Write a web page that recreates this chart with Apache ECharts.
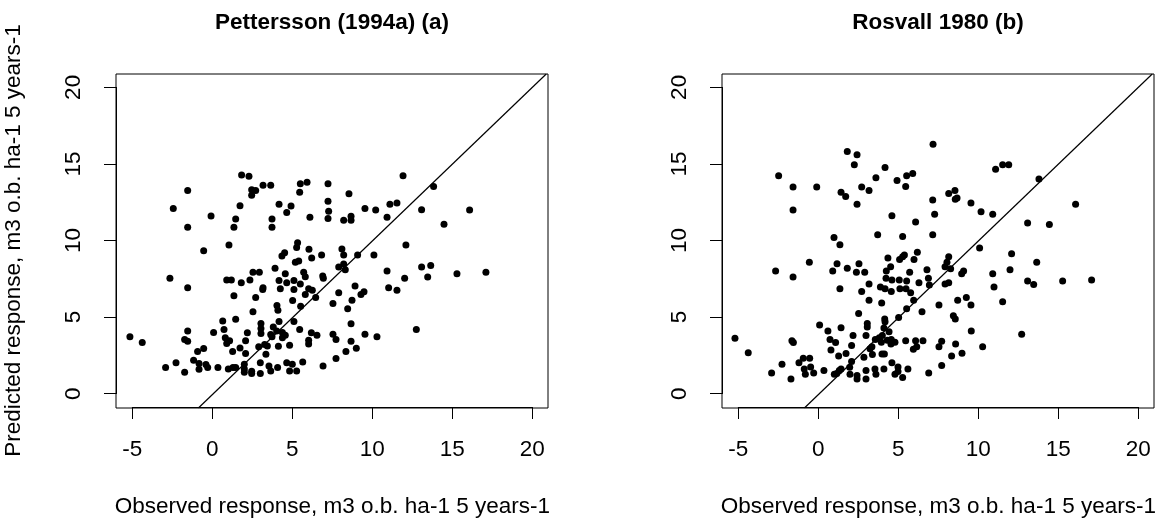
<!DOCTYPE html>
<html><head><meta charset="utf-8">
<script src="https://cdn.jsdelivr.net/npm/echarts@6/dist/echarts.min.js"></script>
<style>html,body{margin:0;padding:0;background:#fff}#c{width:1163px;height:523px}</style>
</head><body><div id="c"></div>
<script>
// ---- texts ----
const panelTitles = ['Pettersson (1994a) (a)', 'Rosvall 1980 (b)'];
const xTitle = 'Observed response, m3 o.b. ha-1 5 years-1';
const yTitle = 'Predicted response, m3 o.b. ha-1 5 years-1';

// ---- axis ranges / ticks ----
const xRange = [-6.02, 20.98];
const yRange = [-0.87, 20.87];
const xTickRange = [-5, 20];
const yTickRange = [0, 20];
const tickStep = 5;

// ---- panel (a): Pettersson (1994a) ----
const obsA = [1.83,2.29,-1.54,2.46,2.71,2.46,3.17,3.65,5.5,5.92,7.23,5.46,8.54,11.92,13.83,1.73,-2.44,-0.08,-1.54,1.46,1.35,3.73,3.73,4.17,4.65,4.92,6.10,7.23,7.27,7.23,8.21,8.67,8.67,9.54,10.21,10.92,11.10,11.54,13.08,16.08,14.48,
1.04,-0.54,5.33,5.27,6.04,4.52,4.35,6.83,6.21,5.19,5.40,8.10,8.21,9.08,10.10,12.10,3.92,7.90,8.21,8.31,5.71,4.56,2.54,2.94,-2.65,0.90,1.19,2.35,1.81,4.17,4.65,5.10,5.81,5.5,6.90,6.94,10.92,12.02,13.08,13.65,13.46,15.29,17.10,-1.54,3.17,3.15,4.25,5.10,6.02,6.25,1.35,2.71,5.02,5.81,6.46,7.90,8.92,9.48,9.29,11.02,11.54,8.73,7.54,8.46,5.52,2.54,4.04,4.10,
1.46,0.65,5.10,4.17,8.67,-1.54,0.73,0.08,3.04,3.04,3.81,4.02,4.38,5.46,6.19,6.54,7.54,9.54,10.29,12.75,-5.15,-4.38,-1.73,-1.54,0.81,1.08,0.90,2.08,2.19,3.04,3.65,3.73,4.38,4.56,3.27,3.44,2.90,4.13,4.83,6.02,6.02,7.73,8.67,-0.92,-0.54,1.27,1.73,2.08,3.35,8.35,9.0,-1.17,7.73,5.65,-2.92,-2.27,-1.73,-0.83,-0.83,-0.40,-0.29,0.35,1.0,1.29,1.46,2.0,2.0,2.0,2.46,2.46,3.0,3.0,3.54,3.65,4.08,4.65,5.0,4.83,5.27,6.92];
const predA = [14.30,14.22,13.28,13.33,13.28,12.98,13.63,13.63,13.72,13.83,13.72,13.17,13.07,14.24,13.54,12.30,12.11,11.63,10.89,11.43,10.89,11.43,10.89,12.39,11.85,12.28,11.54,12.59,11.93,11.46,11.35,11.61,11.35,12.11,12.02,11.54,12.39,12.48,12.04,12.02,11.09,
9.74,9.37,9.89,9.57,9.46,9.24,9.02,9.09,8.89,8.61,8.70,9.48,9.09,9.09,9.09,9.74,8.22,8.30,8.50,8.13,7.96,7.87,7.96,7.96,7.57,7.46,7.46,7.46,7.28,7.43,7.28,7.43,7.67,7.20,7.72,7.57,8.04,7.57,8.30,8.41,7.65,7.87,7.96,6.96,6.96,6.85,6.89,6.85,6.89,6.80,6.43,6.33,6.13,6.52,6.33,6.63,7.07,6.70,6.52,6.96,6.80,6.15,5.93,5.59,5.76,5.39,5.80,5.50,
4.91,4.80,4.76,4.76,4.61,4.15,4.24,4.04,4.63,4.30,4.41,4.15,4.04,4.24,4.02,3.87,3.93,3.93,3.76,4.24,3.76,3.39,3.59,3.48,3.70,3.50,3.33,3.50,4.02,3.98,3.91,3.76,3.70,3.87,3.26,3.17,3.11,3.15,3.22,3.54,3.30,3.59,3.48,2.80,3.00,2.80,3.04,2.67,2.63,2.80,3.02,2.24,2.35,2.13,1.76,2.07,1.46,2.02,1.65,1.96,1.76,1.76,1.67,1.76,1.76,1.98,1.67,1.46,1.52,1.37,2.07,1.37,1.87,1.54,1.76,2.07,1.98,1.54,1.54,1.87];

// ---- panel (b): Rosvall 1980 ----
const obsB = [7.17,1.81,2.42,2.25,4.17,-2.48,3.60,4.92,5.52,5.90,5.46,-1.58,-0.10,2.71,3.17,1.42,1.71,2.42,-1.58,7.15,8.15,8.54,8.56,8.67,9.54,10.17,10.90,7.27,4.60,6.08,11.08,11.52,11.90,13.79,16.08,13.08,14.44,3.71,5.27,7.15,
0.98,1.35,-0.56,-2.67,-1.58,1.17,1.81,2.54,0.90,2.38,2.90,1.35,2.71,3.17,3.17,4.35,4.52,4.25,4.23,4.60,3.88,4.17,4.56,5.08,5.27,5.38,5.71,6.19,5.98,5.06,5.10,5.52,5.48,5.77,6.29,5.96,6.79,6.88,6.94,8.15,8.04,7.92,8.27,8.15,7.92,8.96,9.08,10.08,10.90,10.98,12.08,11.98,11.52,13.65,13.08,13.46,15.27,17.08,5.52,7.54,8.71,9.25,9.54,3.96,6.48,
2.52,5.02,0.08,0.60,1.42,3.06,3.06,4.15,4.17,4.10,4.42,8.44,8.56,9.56,12.71,-1.65,-1.56,0.73,1.08,0.79,2.17,2.08,2.98,3.56,3.81,4.0,3.94,4.31,4.56,4.79,4.54,4.13,3.98,3.35,3.23,3.38,1.73,1.27,5.46,6.08,6.15,5.94,6.54,7.54,7.71,8.58,8.33,8.98,10.27,-5.21,-4.38,-2.27,-1.21,-0.94,-0.54,-0.88,-0.48,-0.81,-0.29,0.35,-2.92,-1.71,1.0,1.31,1.42,1.15,1.98,2.42,2.42,2.98,2.98,3.54,3.60,4.10,4.60,4.79,4.98,4.98,5.27,5.60,6.90,7.71,2.08,1.96,2.85];
const predB = [16.30,15.83,15.61,14.96,14.78,14.24,14.11,13.93,14.24,14.39,13.54,13.52,13.52,13.52,13.28,13.17,12.89,12.39,12.02,12.67,13.09,13.28,12.72,12.80,12.48,11.91,11.74,11.74,11.65,11.24,14.67,14.96,14.96,14.04,12.39,11.17,11.07,10.41,10.30,10.41,
10.22,9.76,8.61,8.04,7.65,8.52,8.22,8.52,8.04,7.96,7.96,6.89,6.72,7.20,6.15,8.89,8.33,8.04,7.57,7.46,7.0,6.89,6.72,8.80,8.98,9.09,7.96,9.26,8.80,7.46,6.89,7.39,6.89,6.63,7.28,6.15,8.13,7.57,7.13,8.98,8.61,8.33,8.20,7.28,7.20,7.87,8.04,9.54,7.87,7.0,9.17,8.13,6.04,8.61,7.39,7.17,7.39,7.46,5.59,5.83,6.15,6.33,5.83,5.96,5.39,
5.28,5.02,4.54,4.15,4.35,4.63,4.41,4.93,4.74,4.33,4.09,5.13,4.93,4.15,3.93,3.50,3.39,3.59,3.39,2.91,3.85,3.20,3.85,3.59,3.70,3.85,3.41,3.54,3.59,3.41,3.30,2.65,2.65,3.11,2.98,2.61,2.67,2.52,3.50,3.50,3.11,2.96,3.50,3.11,3.48,3.30,2.52,2.70,3.11,3.67,2.72,1.98,2.07,2.37,2.37,1.67,1.80,1.33,1.41,1.57,1.41,1.02,1.33,1.57,1.67,1.37,1.33,1.24,1.02,1.57,1.02,1.67,1.33,1.67,2.07,1.33,1.80,1.50,1.11,1.67,1.41,1.89,2.15,1.78,2.43];

// ---- layout ----
const FONT = "'Liberation Sans', Arial, sans-serif";
const FS = 22.5;
const boxes = [
  {left: 116, top: 74, width: 432, height: 334},
  {left: 722, top: 74, width: 432, height: 334}
];

function tickGrid(b) {
  const sx = b.width / (xRange[1] - xRange[0]);
  const sy = b.height / (yRange[1] - yRange[0]);
  return {
    left: b.left + (xTickRange[0] - xRange[0]) * sx,
    width: (xTickRange[1] - xTickRange[0]) * sx,
    top: b.top + (yRange[1] - yTickRange[1]) * sy,
    height: (yTickRange[1] - yTickRange[0]) * sy,
    offX: (yTickRange[0] - yRange[0]) * sy,
    offY: (xTickRange[0] - xRange[0]) * sx
  };
}
const tg = boxes.map(tickGrid);

const grids = [], xAxes = [], yAxes = [], series = [], titles = [];
const obsList = [obsA, obsB], predList = [predA, predB];

boxes.forEach((b, i) => {
  grids.push({left: b.left, top: b.top, width: b.width, height: b.height,
    show: true, borderColor: '#000', borderWidth: 1, backgroundColor: 'transparent', containLabel: false});
  xAxes.push({gridIndex: i, type: 'value', min: xRange[0], max: xRange[1], show: false});
  yAxes.push({gridIndex: i, type: 'value', min: yRange[0], max: yRange[1], show: false});
  series.push({
    type: 'scatter', xAxisIndex: i, yAxisIndex: i,
    data: obsList[i].map((x, k) => [x, predList[i][k]]),
    symbol: 'circle', symbolSize: 7, itemStyle: {color: '#000', opacity: 1}, silent: true
  });
  series.push({
    type: 'line', xAxisIndex: i, yAxisIndex: i,
    data: [[yRange[0], yRange[0]], [yRange[1], yRange[1]]],
    showSymbol: false, lineStyle: {color: '#000', width: 1.2}, silent: true
  });
  titles.push({
    text: panelTitles[i], left: b.left + b.width / 2, top: 11, textAlign: 'center', padding: 0,
    textStyle: {fontFamily: FONT, fontSize: FS, fontWeight: 'bold', color: '#000'}
  });
});

tg.forEach((t, i) => {
  const gi = 2 + i;
  grids.push({left: t.left, top: t.top, width: t.width, height: t.height, show: false});
  xAxes.push({
    gridIndex: gi, type: 'value', min: xTickRange[0], max: xTickRange[1], interval: tickStep,
    position: 'bottom', offset: t.offX,
    axisLine: {show: true, onZero: false, lineStyle: {color: '#000', width: 1}},
    axisTick: {show: true, length: 12, lineStyle: {color: '#000', width: 1}},
    axisLabel: {color: '#000', fontSize: FS, fontFamily: FONT, margin: 31},
    splitLine: {show: false},
    name: xTitle, nameLocation: 'middle', nameGap: 88,
    nameTextStyle: {color: '#000', fontSize: FS, fontFamily: FONT}
  });
  yAxes.push({
    gridIndex: gi, type: 'value', min: yTickRange[0], max: yTickRange[1], interval: tickStep,
    position: 'left', offset: t.offY,
    axisLine: {show: true, onZero: false, lineStyle: {color: '#000', width: 1}},
    axisTick: {show: true, length: 12, lineStyle: {color: '#000', width: 1}},
    axisLabel: {color: '#000', fontSize: FS, fontFamily: FONT, margin: 31, rotate: 90},
    splitLine: {show: false},
    name: i === 0 ? yTitle : '', nameLocation: 'middle', nameGap: 91, nameRotate: 90,
    nameTextStyle: {color: '#000', fontSize: FS, fontFamily: FONT}
  });
});

const chart = echarts.init(document.getElementById('c'));
chart.setOption({
  animation: false,
  backgroundColor: '#fff',
  title: titles,
  grid: grids,
  xAxis: xAxes,
  yAxis: yAxes,
  series: series
});
</script>
</body></html>
